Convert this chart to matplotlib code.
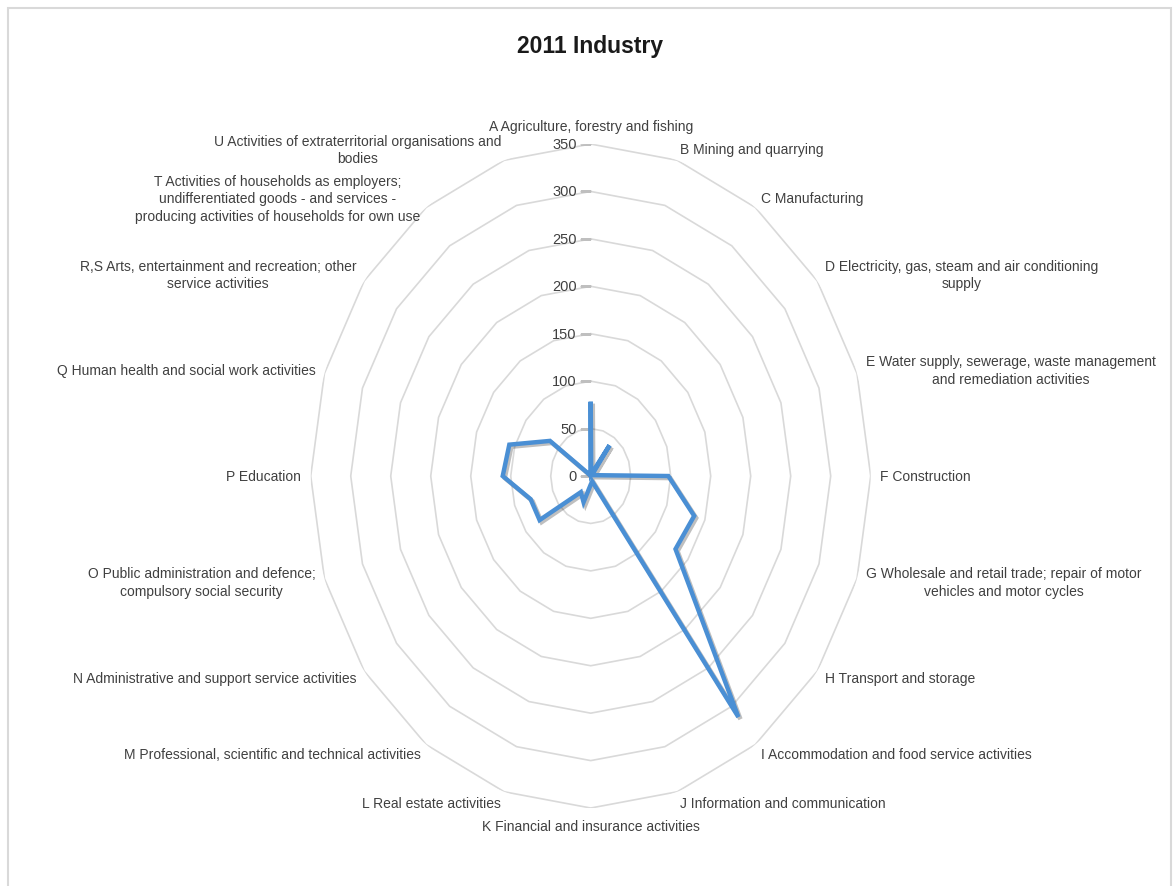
import numpy as np
import matplotlib
matplotlib.use('Agg')
import matplotlib.pyplot as plt
import matplotlib.patheffects as pe
from matplotlib.patches import Rectangle

plt.rcParams['font.family'] = ['Liberation Sans', 'DejaVu Sans']

# 数据
title = '2011 Industry'
categories = [
    'A Agriculture, forestry and fishing',
    'B Mining and quarrying',
    'C Manufacturing',
    'D Electricity, gas, steam and air conditioning\nsupply',
    'E Water supply, sewerage, waste management\nand remediation activities',
    'F Construction',
    'G Wholesale and retail trade; repair of motor\nvehicles and motor cycles',
    'H Transport and storage',
    'I Accommodation and food service activities',
    'J Information and communication',
    'K Financial and insurance activities',
    'L Real estate activities',
    'M Professional, scientific and technical activities',
    'N Administrative and support service activities',
    'O Public administration and defence;\ncompulsory social security',
    'P Education',
    'Q Human health and social work activities',
    'R,S Arts, entertainment and recreation; other\nservice activities',
    'T Activities of households as employers;\nundifferentiated goods - and services -\nproducing activities of households for own use',
    'U Activities of extraterritorial organisations and\nbodies',
]
values = [76, 2, 40, 2, 3, 97, 136, 131, 314, 6, 9, 29, 21, 79, 79, 110, 107, 63, 1, 1]
rings = [0, 50, 100, 150, 200, 250, 300, 350]

n = len(categories)
theta = np.arange(n) * 2 * np.pi / n
theta_c = np.append(theta, theta[0])

fig = plt.figure(figsize=(11.73, 8.87), dpi=100)
fig.patch.set_facecolor('white')
# 外框
fig.patches.append(Rectangle((0.0068, -0.01), 0.9915, 1.0, transform=fig.transFigure,
                             fill=False, edgecolor='#d9d9d9', linewidth=1.5))

ax = fig.add_axes([0.2649, 0.0879, 0.4774, 0.7486], projection='polar')
ax.set_aspect('auto')
ax.set_theta_zero_location('N')
ax.set_theta_direction(-1)
ax.set_ylim(0, 350)
ax.grid(False)
ax.spines['polar'].set_visible(False)
ax.set_xticks([])
ax.set_yticks([])
ax.patch.set_alpha(0)

# 多边形网格
for r in rings[1:]:
    ax.plot(theta_c, [r] * (n + 1), color='#d9d9d9', linewidth=1.2, zorder=1)

# 刻度和刻度标签
ax.plot([0] * len(rings), rings, ls='none', marker=0, markersize=8,
        markeredgewidth=1.0, color='#bfbfbf', zorder=1)
for r in rings:
    ax.annotate(str(r), xy=(0, r), xytext=(-10, 0), textcoords='offset points',
                ha='right', va='center', fontsize=10.5, color='#404040')

# 数据线
ax.plot(theta_c, np.append(values, values[0]), color='#4a8fd4', linewidth=3.2,
        solid_joinstyle='miter', zorder=3,
        path_effects=[pe.SimpleLineShadow(offset=(1.5, -1.5), alpha=0.25), pe.Normal()])

# 类别标签
for t, lab in zip(theta, categories):
    s = np.sin(t)
    c = np.cos(t)
    if abs(s) < 0.1:
        ha = 'center'
        va = 'bottom' if c > 0 else 'top'
    else:
        ha = 'left' if s > 0 else 'right'
        va = 'center'
    ax.text(t, 362, lab, ha=ha, va=va, multialignment='center',
            fontsize=10, color='#404040', linespacing=1.3)

fig.text(0.503, 0.948, title, ha='center', va='center', fontsize=16.5,
         fontweight='bold', color='#1a1a1a')

fig.savefig('out.png', dpi=100)
